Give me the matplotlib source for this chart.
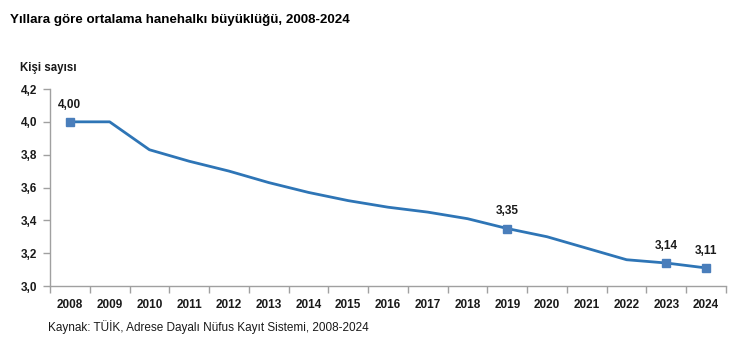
import matplotlib
matplotlib.use("Agg")
import matplotlib.pyplot as plt
import numpy as np

years = ["2008", "2009", "2010", "2011", "2012", "2013", "2014", "2015", "2016",
         "2017", "2018", "2019", "2020", "2021", "2022", "2023", "2024"]
values = [4.00, 4.00, 3.83, 3.76, 3.70, 3.63, 3.57, 3.52, 3.48,
          3.45, 3.41, 3.35, 3.30, 3.23, 3.16, 3.14, 3.11]
labeled = ["2008", "2019", "2023", "2024"]
yticks = [3.0, 3.2, 3.4, 3.6, 3.8, 4.0, 4.2]

plt.rcParams['font.family'] = ['Liberation Sans', 'DejaVu Sans']

fig = plt.figure(figsize=(7.56, 3.51), dpi=100)
ax = fig.add_axes([50/756, 1-286/351, 676/756, 197/351])

x = np.arange(len(years))
line_color = "#2E75B6"
ax.plot(x, values, color=line_color, lw=2.0, solid_joinstyle='round', zorder=3)
idx = [years.index(y) for y in labeled]
ax.plot(x[idx], [values[i] for i in idx], ls='none', marker='s', ms=5.5,
        color="#4A7EBB", zorder=4)
for i in idx:
    ax.annotate(f"{values[i]:.2f}".replace('.', ','), (x[i], values[i]),
                xytext=(0, 8), textcoords='offset points', ha='center', va='bottom',
                fontsize=8.5, fontweight='bold', color='#1a1a1a')

ax.set_xlim(-0.5, len(years) - 0.5)
ax.set_ylim(3.0, 4.2)
ax.set_yticks(yticks)
ax.set_yticklabels([f"{v:.1f}".replace('.', ',') for v in yticks],
                   fontsize=8.5, fontweight='bold', color='#1a1a1a')
ax.set_xticks(x)
ax.set_xticklabels(years, fontsize=8.5, fontweight='bold', color='#1a1a1a')
ax.set_xticks(np.arange(len(years) + 1) - 0.5, minor=True)
ax.tick_params(axis='x', which='major', length=0, pad=9)
ax.tick_params(axis='x', which='minor', length=5, color='#A0A0A0', width=1)
ax.tick_params(axis='y', length=5, color='#A0A0A0', width=1, pad=4)

for s in ['top', 'right']:
    ax.spines[s].set_visible(False)
for s in ['left', 'bottom']:
    ax.spines[s].set_color('#A0A0A0')
    ax.spines[s].set_linewidth(1)

fig.text(10/756, 1-20/351, "Yıllara göre ortalama hanehalkı büyüklüğü, 2008-2024",
         fontsize=9.6, fontweight='bold', ha='left', va='center', color='#000000')
fig.text(20/756, 1-68/351, "Kişi sayısı", fontsize=8.3, fontweight='bold',
         ha='left', va='center', color='#1a1a1a')
fig.text(48/756, 1-327/351, "Kaynak: TÜİK, Adrese Dayalı Nüfus Kayıt Sistemi, 2008-2024",
         fontsize=8.5, ha='left', va='center', color='#1a1a1a')

fig.savefig("out.png", dpi=100)
